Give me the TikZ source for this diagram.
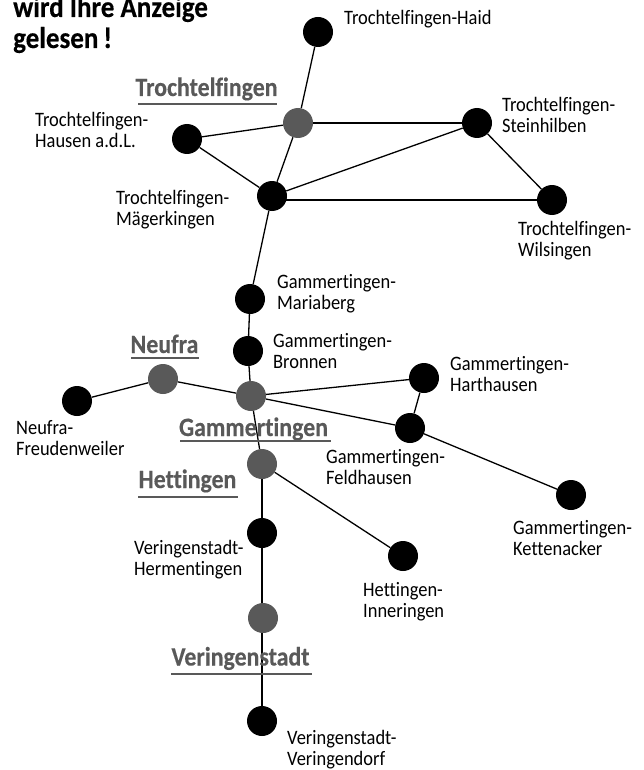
\documentclass[tikz,border=0pt]{standalone}
\usepackage{fontspec}
\setmainfont[FakeStretch=0.9,Ligatures=NoCommon,BoldFeatures={FakeBold=0.3}]{Carlito}
\definecolor{grayd}{HTML}{595959}
\tikzset{
  town/.style={circle,fill=black,minimum size=30pt,inner sep=0pt},
  hub/.style={circle,fill=grayd,minimum size=30pt,inner sep=0pt},
  lab/.style={align=left,anchor=north west,inner sep=0pt,font=\fontsize{20.5}{21}\selectfont},
  head/.style={anchor=base,inner sep=0pt,text=grayd,font=\fontsize{26.5}{28}\selectfont\bfseries},
  titletext/.style={anchor=base west,inner sep=0pt,font=\fontsize{30}{31}\selectfont\bfseries},
  edge/.style={line width=1.3pt,black},
  rule/.style={line width=1.4pt,grayd}
}
\begin{document}
\begin{tikzpicture}[x=1pt,y=-1pt]
\useasboundingbox (0,0) rectangle (643,770);
\node[titletext] (title1) at (13,17) {wird Ihre Anzeige};
\node[titletext] (title2) at (13,48) {gelesen\,!};
\node[town] (haid) at (318,32) {};
\node[hub] (troch) at (298,123) {};
\node[town] (hausen) at (187,139) {};
\node[town] (maeg) at (272,196) {};
\node[town] (stein) at (477,123) {};
\node[town] (wils) at (552,200) {};
\node[town] (maria) at (250,299) {};
\node[town] (bronn) at (248,351) {};
\node[hub] (gamm) at (251,396) {};
\node[hub] (neuf) at (163,379) {};
\node[town] (freud) at (77,401) {};
\node[town] (harth) at (424,378) {};
\node[town] (feld) at (410,428) {};
\node[town] (kett) at (571,495) {};
\node[hub] (hett) at (262,464) {};
\node[town] (herm) at (262,533) {};
\node[town] (inner) at (403,556) {};
\node[hub] (vering) at (263,618) {};
\node[town] (verdorf) at (262,721) {};
\coordinate (maegr) at (286,200);
\coordinate (wilsl) at (537,200);
\coordinate (vtop) at (262,603);
\coordinate (vbot) at (262,633);
\draw[edge] (haid)--(troch);
\draw[edge] (troch)--(hausen);
\draw[edge] (troch)--(maeg);
\draw[edge] (troch)--(stein);
\draw[edge] (hausen)--(maeg);
\draw[edge] (maeg)--(stein);
\draw[edge] (maegr)--(wilsl);
\draw[edge] (stein)--(wils);
\draw[edge] (maeg)--(maria);
\draw[edge] (maria)--(bronn);
\draw[edge] (bronn)--(gamm);
\draw[edge] (gamm)--(neuf);
\draw[edge] (neuf)--(freud);
\draw[edge] (gamm)--(harth);
\draw[edge] (gamm)--(feld);
\draw[edge] (harth)--(feld);
\draw[edge] (feld)--(kett);
\draw[edge] (gamm)--(hett);
\draw[edge] (hett)--(herm);
\draw[edge] (hett)--(inner);
\draw[edge] (herm)--(vtop);
\draw[edge] (vbot)--(verdorf);
\node[lab] (l1) at (344,10) {Trochtelfingen-Haid};
\node[lab] (l2) at (35,112) {Trochtelfingen-\\Hausen a.d.L.};
\node[lab] (l3) at (116,190) {Trochtelfingen-\\Mägerkingen};
\node[lab] (l4) at (502,97) {Trochtelfingen-\\Steinhilben};
\node[lab] (l5) at (518,221) {Trochtelfingen-\\Wilsingen};
\node[lab] (l6) at (277,274) {Gammertingen-\\Mariaberg};
\node[lab] (l7) at (273,333) {Gammertingen-\\Bronnen};
\node[lab] (l8) at (450,356) {Gammertingen-\\Harthausen};
\node[lab] (l9) at (326,449) {Gammertingen-\\Feldhausen};
\node[lab] (l10) at (513,520) {Gammertingen-\\Kettenacker};
\node[lab] (l11) at (16,420) {Neufra-\\Freudenweiler};
\node[lab] (l12) at (134,540) {Veringenstadt-\\Hermentingen};
\node[lab] (l13) at (363,582) {Hettingen-\\Inneringen};
\node[lab] (l14) at (287,730) {Veringenstadt-\\Veringendorf};
\node[head] (h1) at (206.5,96) {Trochtelfingen};
\draw[rule] (138,104)--(277,104);
\node[head] (h2) at (164.5,353) {Neufra};
\draw[rule] (131,358)--(199,358);
\node[head] (h3) at (253.5,436) {Gammertingen};
\draw[rule] (180,441)--(331,441);
\node[head] (h4) at (187.5,488) {Hettingen};
\draw[rule] (138,497)--(238,497);
\node[head] (h5) at (240.5,665.5) {Veringenstadt};
\draw[rule] (171,674)--(312,674);
\end{tikzpicture}
\end{document}
